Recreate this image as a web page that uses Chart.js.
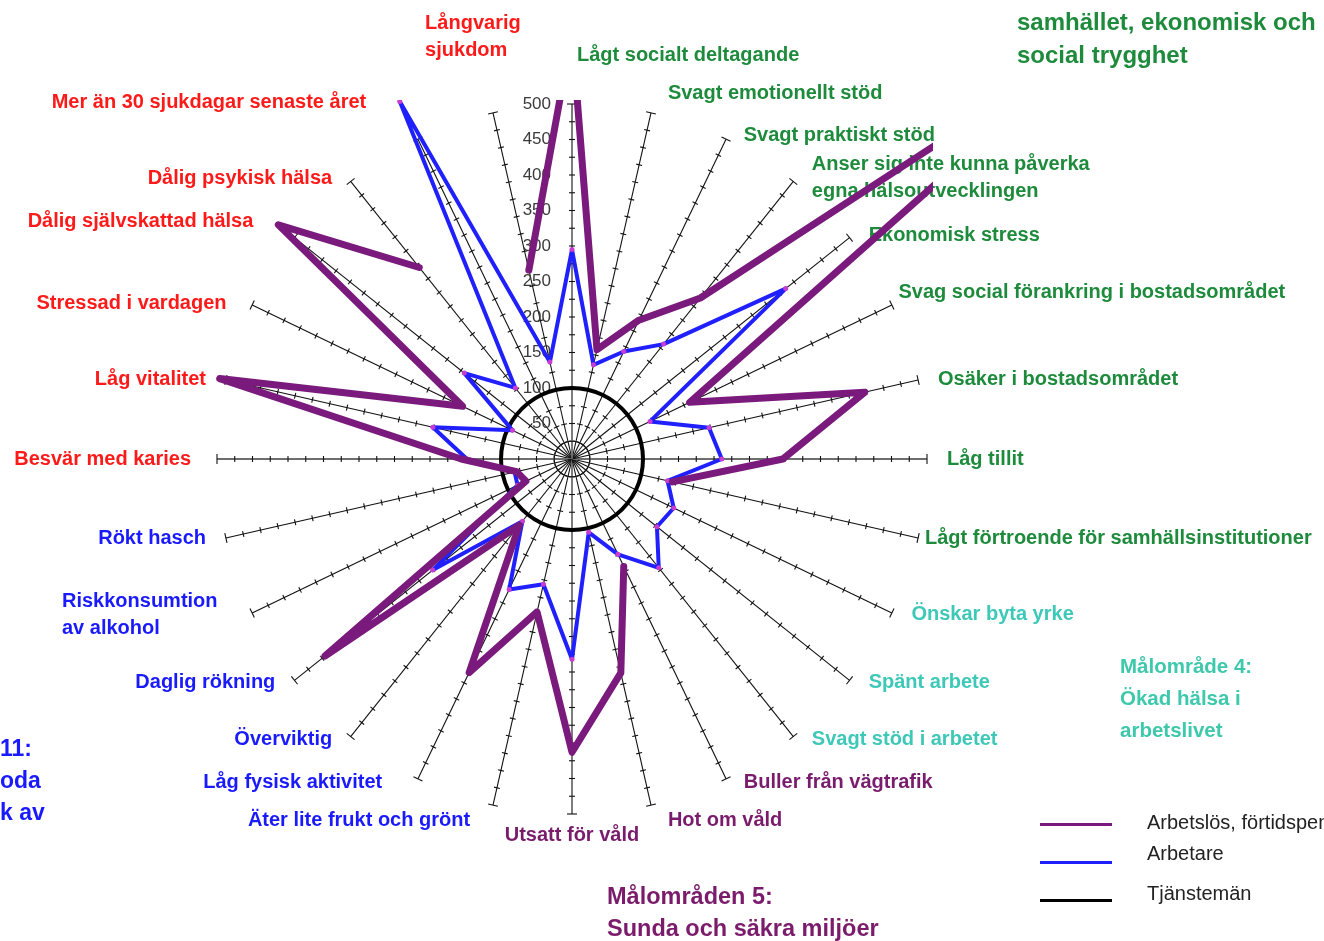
<!DOCTYPE html>
<html lang="sv">
<head>
<meta charset="utf-8">
<title>Folkhälsoprofil</title>
<script src="https://cdn.jsdelivr.net/npm/chart.js@4.4.1/dist/chart.umd.min.js"></script>
<style>
  html, body { margin: 0; padding: 0; background: #fff; overflow: hidden; }
  #wrap { position: relative; width: 1324px; height: 941px; overflow: hidden;
          font-family: "Liberation Sans", Arial, sans-serif; }
  canvas { position: absolute; left: 0; top: 0; }
  .note { position: absolute; font-weight: bold; font-size: 20px; line-height: 32px; white-space: nowrap; }
  #legend { position: absolute; left: 1040px; top: 805px; font-size: 20px; color: #222; white-space: nowrap; }
  .row { display: flex; align-items: center; height: 38px; }
  .swatch { width: 72px; height: 3px; margin-right: 35px; }
</style>
</head>
<body>
<div id="wrap">
  <canvas id="radar" width="1324" height="941"></canvas>
  <div class="note" style="left:1017px; top:5px; color:#1e8b3c; font-size:24px; line-height:33px;">samhället, ekonomisk och<br>social trygghet</div>
  <div class="note" style="left:1120px; top:650px; color:#3ec8ac; font-size:20.5px;">Målområde 4:<br>Ökad hälsa i<br>arbetslivet</div>
  <div class="note" style="left:607px; top:880px; color:#7b1b6b; font-size:23.5px;">Målområden 5:<br>Sunda och säkra miljöer</div>
  <div class="note" style="left:0px; top:732px; color:#1a1aff; font-size:23px;">11:<br>oda<br>k av</div>
  <div id="legend"></div>
</div>
<script>
// categories, clockwise from the top
const categories = [
  'Lågt socialt deltagande',
  'Svagt emotionellt stöd',
  'Svagt praktiskt stöd',
  ['Anser sig inte kunna påverka', 'egna hälsoutvecklingen'],
  'Ekonomisk stress',
  'Svag social förankring i bostadsområdet',
  'Osäker i bostadsområdet',
  'Låg tillit',
  'Lågt förtroende för samhällsinstitutioner',
  'Önskar byta yrke',
  'Spänt arbete',
  'Svagt stöd i arbetet',
  'Buller från vägtrafik',
  'Hot om våld',
  'Utsatt för våld',
  'Äter lite frukt och grönt',
  'Låg fysisk aktivitet',
  'Överviktig',
  'Daglig rökning',
  ['Riskkonsumtion', 'av alkohol'],
  'Rökt hasch',
  'Besvär med karies',
  'Låg vitalitet',
  'Stressad i vardagen',
  'Dålig självskattad hälsa',
  'Dålig psykisk hälsa',
  'Mer än 30 sjukdagar senaste året',
  ['Långvarig', 'sjukdom']
];

// goal area of each category (decides label colour)
const categoryGroup = [
  'samhalle', 'samhalle', 'samhalle', 'samhalle', 'samhalle', 'samhalle', 'samhalle', 'samhalle', 'samhalle',
  'arbetsliv', 'arbetsliv', 'arbetsliv',
  'miljo', 'miljo', 'miljo',
  'levnadsvanor', 'levnadsvanor', 'levnadsvanor', 'levnadsvanor', 'levnadsvanor', 'levnadsvanor',
  'halsa', 'halsa', 'halsa', 'halsa', 'halsa', 'halsa', 'halsa'
];

// index, Tjänstemän = 100
const arbetslos = [600, 158, 217, 290, 950, 184, 423, 297, 145, null, null, null, 168, 309,
                   413, 221, 334, 119, 445, 72, 80, 156, 509, 171, 529, 345, null, 273];
const arbetare  = [295, 136, 168, 207, 385, 122, 198, 211, 138, 159, 153, 196, 149, 106,
                   282, 181, 204, 112, 251, 85, 83, 148, 201, 93, 194, 128, 559, 140];
const tjanstemen = [100, 100, 100, 100, 100, 100, 100, 100, 100, 100, 100, 100, 100, 100,
                    100, 100, 100, 100, 100, 100, 100, 100, 100, 100, 100, 100, 100, 100];

const groupColors = {
  samhalle: '#1e8b3c',
  arbetsliv: '#3ec8b8',
  miljo: '#7a1c6c',
  levnadsvanor: '#1a1aff',
  halsa: '#ff1a1a'
};

const FONT = '"Liberation Sans", Arial, sans-serif';

// put the radar where it sits on the slide
const placeScale = {
  id: 'placeScale',
  afterLayout(chart) {
    const s = chart.scales.r;
    s.xCenter = 572;
    s.yCenter = 459;
    s.drawingArea = 355;
  }
};

// label tweaks where the slide moved the text boxes
const nudges = {
  0: {align: 'left', dx: 5, dy: -45},
  1: {dy: -16},
  5: {dx: -13, dy: -11},
  8: {dx: -13},
  13: {dy: 11},
  14: {dy: 17},
  15: {dx: -6, dy: 11},
  16: {dx: -18},
  19: {dx: -15},
  21: {dx: -6},
  23: {dx: -6},
  24: {dx: -22, dy: -14},
  26: {dx: -34, dy: -33},
  27: {align: 'left', dx: -67, dy: -72}
};

const spokeDecor = {
  id: 'spokeDecor',
  beforeDatasetsDraw(chart) {
    const s = chart.scales.r;
    const ctx = chart.ctx;
    const n = chart.data.labels.length;
    ctx.save();

    // small cross ticks every 25 along every spoke
    ctx.strokeStyle = '#111';
    ctx.lineWidth = 1.1;
    for (let i = 0; i < n; i++) {
      for (let v = 25; v <= s.max; v += 25) {
        const p = s.getPointPosition(i, s.getDistanceFromCenterForValue(v));
        const half = v === s.max ? 5 : 3;
        const ux = -Math.sin(p.angle), uy = Math.cos(p.angle);
        ctx.beginPath();
        ctx.moveTo(p.x - ux * half, p.y - uy * half);
        ctx.lineTo(p.x + ux * half, p.y + uy * half);
        ctx.stroke();
      }
    }

    // value labels on the vertical spoke
    ctx.fillStyle = '#3a3a3a';
    ctx.font = '17px ' + FONT;
    ctx.textAlign = 'right';
    ctx.textBaseline = 'middle';
    s.ticks.forEach(t => {
      if (t.value <= 0) return;
      const d = s.getDistanceFromCenterForValue(t.value);
      ctx.fillText(String(t.value), s.xCenter - 21, s.yCenter - d);
    });

    // category labels
    ctx.font = 'bold 20px ' + FONT;
    ctx.textAlign = 'left';
    for (let i = 0; i < n; i++) {
      const p = s.getPointPosition(i, s.drawingArea + 4);
      const deg = i * 360 / n;
      let align = (deg === 0 || deg === 180) ? 'center' : (deg < 180 ? 'left' : 'right');
      let x = p.x + (align === 'left' ? 16 : align === 'right' ? -16 : 0);
      let y = p.y;
      const nd = nudges[i] || {};
      if (nd.align) { align = nd.align; x = p.x; }
      x += nd.dx || 0;
      y += nd.dy || 0;
      const lines = [].concat(chart.data.labels[i]);
      const w = Math.max(...lines.map(l => ctx.measureText(l).width));
      ctx.fillStyle = groupColors[categoryGroup[i]];
      lines.forEach((l, k) => {
        const ly = y + (k - (lines.length - 1) / 2) * 27;
        let lx = x;
        if (align === 'right') lx = x - w;
        if (align === 'center') lx = x - ctx.measureText(l).width / 2;
        ctx.fillText(l, lx, ly);
      });
    }
    ctx.restore();
  }
};

const mainAxis = [0, 7, 14, 21];

const chart = new Chart(document.getElementById('radar'), {
  type: 'radar',
  data: {
    labels: categories,
    datasets: [
      {
        label: 'Arbetslös, förtidspensionär',
        data: arbetslos,
        borderColor: '#7a1a7c',
        borderWidth: 7,
        borderJoinStyle: 'round',
        borderCapStyle: 'round',
        pointRadius: 0,
        fill: false,
        clip: 0
      },
      {
        label: 'Arbetare',
        data: arbetare,
        borderColor: '#2020ff',
        borderWidth: 4,
        borderJoinStyle: 'round',
        pointRadius: 2.5,
        pointBorderWidth: 0,
        pointBackgroundColor: '#c83cd2',
        fill: false,
        clip: 0
      },
      {
        label: 'Tjänstemän',
        data: tjanstemen,
        borderColor: '#000',
        borderWidth: 4,
        pointRadius: 0,
        tension: 0.33,
        fill: false,
        clip: 0
      }
    ]
  },
  options: {
    responsive: false,
    animation: false,
    layout: { padding: { top: 100, right: 391, left: 150, bottom: 71 } },
    plugins: {
      legend: { display: false },
      tooltip: { enabled: false }
    },
    scales: {
      r: {
        min: 0,
        max: 500,
        ticks: { stepSize: 50, display: false },
        grid: { display: false },
        angleLines: {
          display: true,
          color: c => mainAxis.includes(c.index) ? '#6e6e6e' : '#111',
          lineWidth: c => mainAxis.includes(c.index) ? 1.8 : 1.1
        },
        pointLabels: { display: false }
      }
    }
  },
  plugins: [placeScale, spokeDecor]
});

// legend from the datasets
const legend = document.getElementById('legend');
const labelShift = [-2, -9, -7];
chart.data.datasets.forEach((ds, i) => {
  const row = document.createElement('div');
  row.className = 'row';
  const sw = document.createElement('div');
  sw.className = 'swatch';
  sw.style.background = ds.borderColor;
  const tx = document.createElement('span');
  tx.textContent = ds.label;
  tx.style.position = 'relative';
  tx.style.top = labelShift[i] + 'px';
  row.appendChild(sw);
  row.appendChild(tx);
  legend.appendChild(row);
});
</script>
</body>
</html>
